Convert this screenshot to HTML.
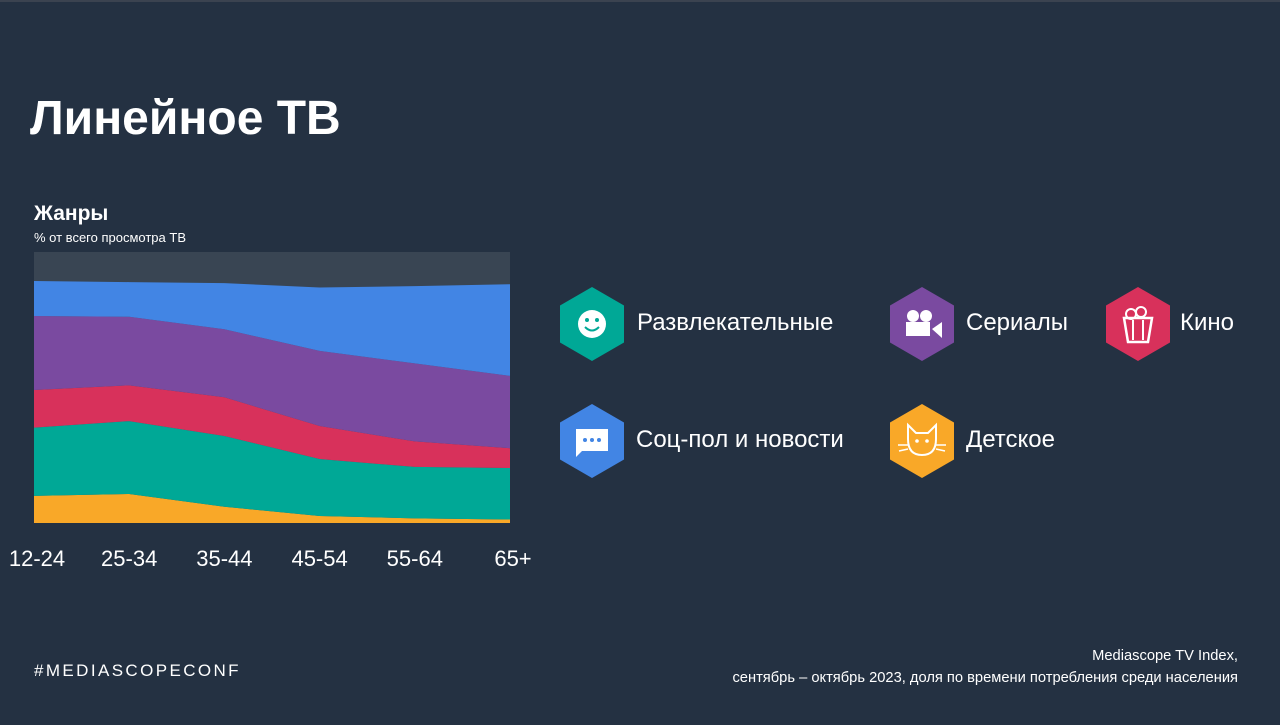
<!DOCTYPE html>
<html><head><meta charset="utf-8">
<style>
body{margin:0;width:1280px;height:725px;background:#243142;overflow:hidden;font-family:"Liberation Sans","Noto Sans CJK SC",sans-serif;color:#fff;position:relative}
.t{position:absolute;white-space:nowrap}
</style></head>
<body>
<div style="position:absolute;left:0;top:0;width:1280px;height:2px;background:#3b4350"></div>
<div class="t" style="left:30px;top:91px;font-size:48px;font-weight:bold">Линейное ТВ</div>
<div class="t" style="left:34px;top:202px;font-size:21px;font-weight:bold">Жанры</div>
<div class="t" style="left:34px;top:230px;font-size:13px">% от всего просмотра ТВ</div>
<svg id="chart" width="560" height="600" style="position:absolute;left:0;top:0"></svg>
<svg width="1280" height="725" style="position:absolute;left:0;top:0;pointer-events:none" id="leg"></svg>
<div class="t" style="left:637px;top:309px;font-size:24px">Развлекательные</div>
<div class="t" style="left:966px;top:309px;font-size:24px">Сериалы</div>
<div class="t" style="left:1180px;top:309px;font-size:24px">Кино</div>
<div class="t" style="left:636px;top:426px;font-size:24px">Соц-пол и новости</div>
<div class="t" style="left:966px;top:426px;font-size:24px">Детское</div>
<div class="t" style="left:34px;top:661px;font-size:17px;letter-spacing:2.4px">#MEDIASCOPECONF</div>
<div class="t" style="right:42px;top:645px;font-size:14.7px;text-align:right;line-height:22px">Mediascope TV Index,<br>сентябрь – октябрь 2023, доля по времени потребления среди населения</div>
<script>
const categories=["12-24","25-34","35-44","45-54","55-64","65+"];
const kids=[10,10.7,6,2.6,1.7,1.3];
const entertainment=[25.2,26.9,26.1,21,19,19];
const movies=[13.9,13.2,14.3,12.2,9.4,7.3];
const series=[27.3,25.3,25.1,27.7,28.8,26.7];
const news=[12.9,12.8,17,23.4,28.5,33.8];
const layers=[[kids,"#f9a828","area-kids"],[entertainment,"#00a896","area-entertainment"],[movies,"#d8315b","area-movies"],[series,"#7a4aa0","area-series"],[news,"#4285e4","area-news"]];
const NS="http://www.w3.org/2000/svg";
const svg=document.getElementById("chart");
const X0=34,X1=510,Y0=252,Y1=523;
const x=i=>X0+(X1-X0)*i/(categories.length-1);
const y=v=>Y1-(Y1-Y0)*v/100;
let bg=document.createElementNS(NS,"rect");
bg.setAttribute("x",X0);bg.setAttribute("y",Y0);bg.setAttribute("width",X1-X0);bg.setAttribute("height",Y1-Y0);bg.setAttribute("fill","#394553");


svg.appendChild(bg);
let base=categories.map(()=>0);
layers.forEach(([vals,col,name])=>{
 const top=base.map((b,i)=>b+vals[i]);
 let d=top.map((v,i)=>(i?"L":"M")+x(i)+","+y(v)).join("");
 for(let i=categories.length-1;i>=0;i--)d+="L"+x(i)+","+y(base[i]);
 const p=document.createElementNS(NS,"path");
 p.setAttribute("d",d+"Z");p.setAttribute("fill",col);
 
 
 svg.appendChild(p);base=top;
});
categories.forEach((c,i)=>{
 const t=document.createElementNS(NS,"text");
 t.setAttribute("x",x(i)+(i==0?3:i==5?3:0));t.setAttribute("y",566);t.setAttribute("text-anchor","middle");
 t.setAttribute("fill","#fff");t.setAttribute("font-size","22");t.textContent=c;
 
 
 svg.appendChild(t);
});
const leg=document.getElementById("leg");
const hexes=[[592,324,"#00a896","icon-entertainment"],[922,324,"#7a4aa0","icon-series"],[1138,324,"#d8315b","icon-movies"],[592,441,"#4285e4","icon-news"],[922,441,"#f9a828","icon-kids"]];
hexes.forEach(([cx,cy,col,name])=>{
 const g=document.createElementNS(NS,"g");
 
 
 const pts=[[0,-37],[32,-18.5],[32,18.5],[0,37],[-32,18.5],[-32,-18.5]].map(p=>(cx+p[0])+","+(cy+p[1])).join(" ");
 let inner="";
 if(name=="icon-entertainment")inner=`<circle cx="${cx}" cy="${cy}" r="14" fill="#fff"/><circle cx="${cx-5}" cy="${cy-4}" r="2" fill="${col}"/><circle cx="${cx+5}" cy="${cy-4}" r="2" fill="${col}"/><path d="M${cx-7} ${cy+3}Q${cx} ${cy+10} ${cx+7} ${cy+3}" stroke="${col}" stroke-width="2" fill="none"/>`;
 if(name=="icon-news")inner=`<path d="M${cx-16} ${cy-12}h32v22h-26l-6 6z" fill="#fff"/><circle cx="${cx-7}" cy="${cy-1}" r="2" fill="${col}"/><circle cx="${cx}" cy="${cy-1}" r="2" fill="${col}"/><circle cx="${cx+7}" cy="${cy-1}" r="2" fill="${col}"/>`;
 if(name=="icon-series")inner=`<circle cx="${cx-9}" cy="${cy-8}" r="6" fill="#fff"/><circle cx="${cx+4}" cy="${cy-8}" r="6" fill="#fff"/><rect x="${cx-16}" y="${cy-2}" width="24" height="14" fill="#fff"/><path d="M${cx+10} ${cy+5}l10-7v16z" fill="#fff"/>`;
 if(name=="icon-movies")inner=`<path d="M${cx-14} ${cy-6}h28l-4 24h-20z" fill="none" stroke="#fff" stroke-width="2.5"/><circle cx="${cx-7}" cy="${cy-10}" r="5" fill="none" stroke="#fff" stroke-width="2"/><circle cx="${cx+3}" cy="${cy-12}" r="5" fill="none" stroke="#fff" stroke-width="2"/><path d="M${cx-5} ${cy-4}v20M${cx+5} ${cy-4}v20" stroke="#fff" stroke-width="2"/>`;
 if(name=="icon-kids")inner=`<path d="M${cx-14} ${cy-16}l8 8h12l8-8v14q0 16-14 16t-14-16z" fill="none" stroke="#fff" stroke-width="2"/><circle cx="${cx-5}" cy="${cy}" r="1.8" fill="#fff"/><circle cx="${cx+5}" cy="${cy}" r="1.8" fill="#fff"/><path d="M${cx-24} ${cy+4}h10M${cx+14} ${cy+4}h10M${cx-23} ${cy+10}l9-2M${cx+14} ${cy+8}l9 2" stroke="#fff" stroke-width="1.5"/>`;
 g.innerHTML=`<polygon points="${pts}" fill="${col}"/>`+inner;
 leg.appendChild(g);
});
</script>
</body></html>
